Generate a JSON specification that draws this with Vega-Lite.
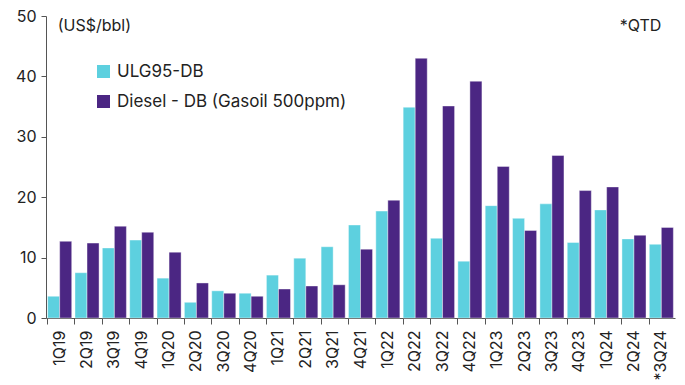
{
  "$schema": "https://vega.github.io/schema/vega-lite/v6.json",
  "width": 629,
  "height": 302,
  "autosize": {"type": "none"},
  "padding": {"left": 46, "top": 16, "right": 10, "bottom": 67},
  "background": "white",
  "config": {
    "font": "Inter",
    "view": {"stroke": null},
    "axis": {"labelFont": "Inter", "labelColor": "#222", "domainColor": "#555", "tickColor": "#555"},
    "legend": {"labelFont": "Inter"},
    "text": {"font": "Inter"}
  },
  "datasets": {
    "bars": [
      {"q": "1Q19", "s": "ULG95-DB", "v": 3.6}, {"q": "1Q19", "s": "Diesel - DB (Gasoil 500ppm)", "v": 12.7},
      {"q": "2Q19", "s": "ULG95-DB", "v": 7.5}, {"q": "2Q19", "s": "Diesel - DB (Gasoil 500ppm)", "v": 12.4},
      {"q": "3Q19", "s": "ULG95-DB", "v": 11.6}, {"q": "3Q19", "s": "Diesel - DB (Gasoil 500ppm)", "v": 15.2},
      {"q": "4Q19", "s": "ULG95-DB", "v": 12.9}, {"q": "4Q19", "s": "Diesel - DB (Gasoil 500ppm)", "v": 14.2},
      {"q": "1Q20", "s": "ULG95-DB", "v": 6.6}, {"q": "1Q20", "s": "Diesel - DB (Gasoil 500ppm)", "v": 10.9},
      {"q": "2Q20", "s": "ULG95-DB", "v": 2.6}, {"q": "2Q20", "s": "Diesel - DB (Gasoil 500ppm)", "v": 5.8},
      {"q": "3Q20", "s": "ULG95-DB", "v": 4.5}, {"q": "3Q20", "s": "Diesel - DB (Gasoil 500ppm)", "v": 4.1},
      {"q": "4Q20", "s": "ULG95-DB", "v": 4.1}, {"q": "4Q20", "s": "Diesel - DB (Gasoil 500ppm)", "v": 3.6},
      {"q": "1Q21", "s": "ULG95-DB", "v": 7.1}, {"q": "1Q21", "s": "Diesel - DB (Gasoil 500ppm)", "v": 4.8},
      {"q": "2Q21", "s": "ULG95-DB", "v": 9.9}, {"q": "2Q21", "s": "Diesel - DB (Gasoil 500ppm)", "v": 5.3},
      {"q": "3Q21", "s": "ULG95-DB", "v": 11.8}, {"q": "3Q21", "s": "Diesel - DB (Gasoil 500ppm)", "v": 5.5},
      {"q": "4Q21", "s": "ULG95-DB", "v": 15.4}, {"q": "4Q21", "s": "Diesel - DB (Gasoil 500ppm)", "v": 11.4},
      {"q": "1Q22", "s": "ULG95-DB", "v": 17.7}, {"q": "1Q22", "s": "Diesel - DB (Gasoil 500ppm)", "v": 19.5},
      {"q": "2Q22", "s": "ULG95-DB", "v": 34.9}, {"q": "2Q22", "s": "Diesel - DB (Gasoil 500ppm)", "v": 43.0},
      {"q": "3Q22", "s": "ULG95-DB", "v": 13.2}, {"q": "3Q22", "s": "Diesel - DB (Gasoil 500ppm)", "v": 35.1},
      {"q": "4Q22", "s": "ULG95-DB", "v": 9.4}, {"q": "4Q22", "s": "Diesel - DB (Gasoil 500ppm)", "v": 39.2},
      {"q": "1Q23", "s": "ULG95-DB", "v": 18.6}, {"q": "1Q23", "s": "Diesel - DB (Gasoil 500ppm)", "v": 25.1},
      {"q": "2Q23", "s": "ULG95-DB", "v": 16.5}, {"q": "2Q23", "s": "Diesel - DB (Gasoil 500ppm)", "v": 14.5},
      {"q": "3Q23", "s": "ULG95-DB", "v": 18.9}, {"q": "3Q23", "s": "Diesel - DB (Gasoil 500ppm)", "v": 26.9},
      {"q": "4Q23", "s": "ULG95-DB", "v": 12.5}, {"q": "4Q23", "s": "Diesel - DB (Gasoil 500ppm)", "v": 21.1},
      {"q": "1Q24", "s": "ULG95-DB", "v": 17.9}, {"q": "1Q24", "s": "Diesel - DB (Gasoil 500ppm)", "v": 21.7},
      {"q": "2Q24", "s": "ULG95-DB", "v": 13.1}, {"q": "2Q24", "s": "Diesel - DB (Gasoil 500ppm)", "v": 13.7},
      {"q": "*3Q24", "s": "ULG95-DB", "v": 12.2}, {"q": "*3Q24", "s": "Diesel - DB (Gasoil 500ppm)", "v": 15.0}
    ],
    "noteLeft": [{"q": "1Q19", "v": 50, "t": "(US$/bbl)"}],
    "noteRight": [{"q": "*3Q24", "v": 50, "t": "*QTD"}]
  },
  "layer": [
    {
      "data": {"name": "bars"},
      "mark": {"type": "bar", "stroke": "#ffffff", "strokeOpacity": 0.5, "strokeWidth": 0.8},
      "encoding": {
        "x": {
          "field": "q", "type": "nominal", "sort": null,
          "scale": {"paddingInner": 0.12, "paddingOuter": 0.06},
          "axis": {"title": null, "labelAngle": -90, "labelFontSize": 16, "labelPadding": 6, "tickSize": 6, "bandPosition": 0, "labelBaseline": "middle", "labelAlign": "right"}
        },
        "xOffset": {"field": "s", "type": "nominal", "sort": ["ULG95-DB", "Diesel - DB (Gasoil 500ppm)"]},
        "y": {
          "field": "v", "type": "quantitative",
          "scale": {"domain": [0, 50], "nice": false},
          "axis": {"title": null, "values": [0, 10, 20, 30, 40, 50], "grid": false, "labelFontSize": 16, "tickSize": 5, "labelPadding": 5}
        },
        "color": {
          "field": "s", "type": "nominal", "sort": ["ULG95-DB", "Diesel - DB (Gasoil 500ppm)"],
          "scale": {"domain": ["ULG95-DB", "Diesel - DB (Gasoil 500ppm)"], "range": ["#5dd0df", "#4b2683"]},
          "legend": {"title": null, "orient": "none", "legendX": 49, "legendY": 47, "symbolType": "square", "symbolSize": 170, "symbolStrokeWidth": 0, "labelFontSize": 17, "labelLimit": 0, "labelColor": "#222", "rowPadding": 12, "labelOffset": 5, "padding": 0}
        }
      }
    },
    {
      "data": {"name": "noteLeft"},
      "mark": {"type": "text", "fontSize": 16, "baseline": "top", "align": "left", "color": "#222", "dy": 2, "dx": -2},
      "encoding": {
        "x": {"field": "q", "type": "nominal", "sort": null},
        "y": {"field": "v", "type": "quantitative"},
        "text": {"field": "t"}
      }
    },
    {
      "data": {"name": "noteRight"},
      "mark": {"type": "text", "fontSize": 16, "baseline": "top", "align": "right", "color": "#222", "dy": 2},
      "encoding": {
        "x": {"field": "q", "type": "nominal", "sort": null},
        "y": {"field": "v", "type": "quantitative"},
        "text": {"field": "t"}
      }
    }
  ]
}
